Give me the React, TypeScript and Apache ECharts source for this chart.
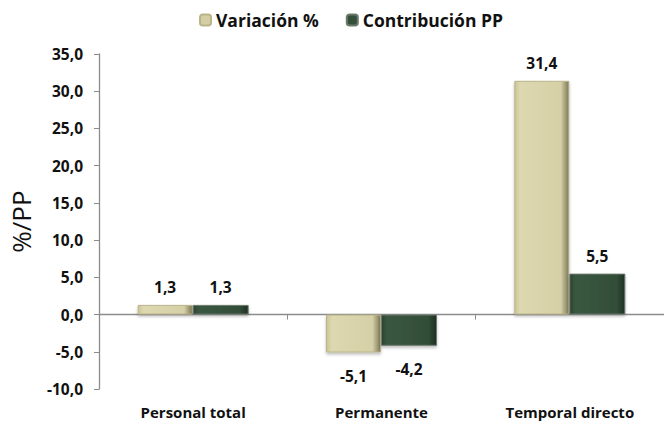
import React, { useEffect, useRef } from "react";
import * as echarts from "echarts";

const categories = ["Personal total", "Permanente", "Temporal directo"];
const variacion = [1.3, -5.1, 31.4];
const contribucion = [1.3, -4.2, 5.5];
const seriesNames = ["Variación %", "Contribución PP"];

const fmt = (v: number) => v.toFixed(1).replace(".", ",");
const FONT = "Open Sans";

export default function App() {
  const ref = useRef<HTMLDivElement>(null);
  useEffect(() => {
    const chart = echarts.init(ref.current!, null, { renderer: "svg" });
    const beige = new echarts.graphic.LinearGradient(0, 0, 1, 0, [
      { offset: 0, color: "#cbc597" },
      { offset: 0.1, color: "#ddd8b0" },
      { offset: 0.85, color: "#d5d0a6" },
      { offset: 1, color: "#7d7858" },
    ]);
    const green = new echarts.graphic.LinearGradient(0, 0, 1, 0, [
      { offset: 0, color: "#2a4230" },
      { offset: 0.1, color: "#3a5740" },
      { offset: 0.85, color: "#324d38" },
      { offset: 1, color: "#1e2f22" },
    ]);
    const label = {
      show: true,
      formatter: (p: any) => fmt(p.value),
      fontFamily: FONT,
      fontWeight: "bold" as const,
      fontSize: 15.5,
      color: "#111",
    };
    const mkData = (arr: number[]) =>
      arr.map((v) => ({
        value: v,
        label: v >= 0 ? { position: "top", distance: 10 } : { position: "bottom", distance: 15 },
      }));
    chart.setOption({
      animation: false,
      textStyle: { fontFamily: FONT },
      legend: {
        top: 6,
        left: 194,
        itemWidth: 11,
        itemHeight: 11,
        itemGap: 27,
        textStyle: { fontFamily: FONT, fontWeight: "bold", fontSize: 17.5, color: "#111" },
        data: [
          { name: seriesNames[0], itemStyle: { color: "#d3cea3" } },
          { name: seriesNames[1], itemStyle: { color: "#34503a" } },
        ],
      },
      grid: { left: 90, right: -6, top: 54, bottom: 35 },
      xAxis: [
        {
          type: "category",
          data: categories,
          position: "bottom",
          axisLine: { show: false, onZero: false },
          axisTick: { show: false },
          axisLabel: {
            fontFamily: FONT,
            fontWeight: "bold",
            fontSize: 15,
            color: "#111",
            margin: 15,
          },
        },
        {
          type: "category",
          data: categories,
          position: "bottom",
          axisLine: { show: true, onZero: true, lineStyle: { color: "#8c8c8c", width: 1.3 } },
          axisTick: { show: true, length: 5, lineStyle: { color: "#8c8c8c" } },
          axisLabel: { show: false },
        },
      ],
      yAxis: {
        type: "value",
        min: -10,
        max: 35,
        interval: 5,
        name: "%/PP",
        nameLocation: "middle",
        nameGap: 65,
        nameRotate: 90,
        nameTextStyle: { fontFamily: FONT, fontSize: 26, color: "#111" },
        axisLine: { show: true, lineStyle: { color: "#8c8c8c", width: 1.3 } },
        axisTick: { show: true, length: 5, lineStyle: { color: "#8c8c8c" } },
        splitLine: { show: false },
        axisLabel: {
          formatter: (v: number) => fmt(v),
          fontFamily: FONT,
          fontWeight: "bold",
          fontSize: 15.5,
          color: "#111",
          margin: 16,
        },
      },
      series: [
        {
          name: seriesNames[0],
          type: "bar",
          xAxisIndex: 0,
          data: mkData(variacion),
          barWidth: 55,
          barGap: "0%",
          itemStyle: { color: beige, borderColor: "#b9b48a", borderWidth: 1, shadowColor: "rgba(0,0,0,0.25)", shadowBlur: 3, shadowOffsetY: 2 },
          label,
        },
        {
          name: seriesNames[1],
          type: "bar",
          xAxisIndex: 0,
          data: mkData(contribucion),
          barWidth: 56,
          barGap: "0%",
          itemStyle: { color: green, borderColor: "#6c7a6e", borderWidth: 1, shadowColor: "rgba(0,0,0,0.25)", shadowBlur: 3, shadowOffsetY: 2 },
          label,
        },
      ],
    });
    return () => chart.dispose();
  }, []);
  return (
    <div
      ref={ref}
      style={{ position: "fixed", left: 0, top: 0, width: 664, height: 424, background: "#fff" }}
    />
  );
}
